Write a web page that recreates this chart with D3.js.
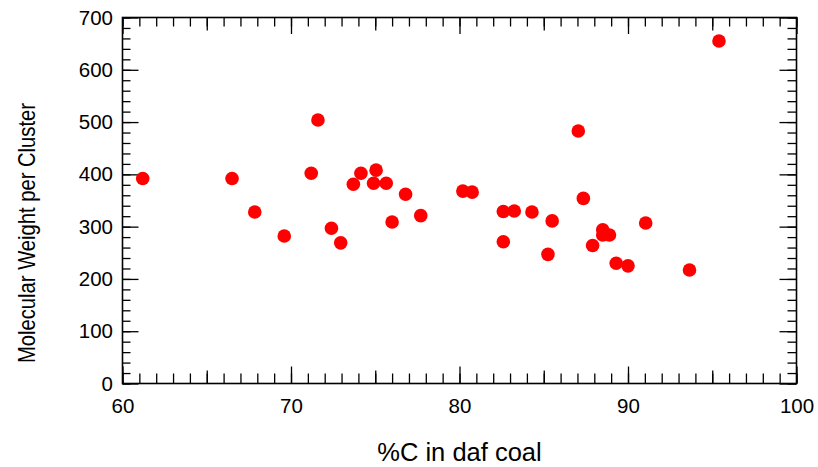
<!DOCTYPE html>
<html>
<head>
<meta charset="utf-8">
<script src="https://cdn.jsdelivr.net/npm/d3@7"></script>
<style>
  body { margin: 0; background: #fff; }
  svg text { font-family: "Liberation Sans", Arial, sans-serif; fill: #000; }
</style>
</head>
<body>
<svg id="chart" width="818" height="467"></svg>
<script>

// carbon content (%C daf) and molecular weight per cluster
var carbon = [61.2, 66.5, 67.85, 69.6, 71.2, 71.6, 72.4, 72.95, 73.7, 74.15,
              74.9, 75.05, 75.65, 76.0, 76.8, 77.7, 80.2, 80.75, 82.6, 82.6,
              83.25, 84.3, 85.25, 85.5, 87.05, 87.35, 87.9, 88.5, 88.5, 88.9,
              89.3, 90.0, 91.05, 93.65, 95.4];
var mw = [392, 392, 328, 282, 402, 504, 297, 269, 381, 402,
          383, 408, 383, 309, 362, 321, 368, 366, 329, 271,
          330, 328, 247, 311, 483, 354, 264, 294, 284, 284,
          230, 225, 307, 217, 655];

var xMajor = [60, 70, 80, 90, 100];
var yMajor = [0, 100, 200, 300, 400, 500, 600, 700];

var svg = d3.select("#chart");

var pLeft = 122.5, pRight = 796.5, pTop = 17.5, pBottom = 383.5;

var x = d3.scaleLinear().domain([60, 100]).range([pLeft, pRight]);
var y = d3.scaleLinear().domain([0, 700]).range([pBottom, pTop]);

// frame
svg.append("rect")
    .attr("x", pLeft).attr("y", pTop)
    .attr("width", pRight - pLeft).attr("height", pBottom - pTop)
    .attr("fill", "none").attr("stroke", "#000").attr("stroke-width", 1.6);

//helper to add an axis layer with inward ticks
function addAxis(axis, tx, ty, labels) {
    var g = svg.append("g")
        .attr("transform", "translate(" + tx + "," + ty + ")")
        .call(axis);
    g.select(".domain").remove();
    g.selectAll("line").attr("stroke", "#000").attr("stroke-width", 1.3);
    if (!labels) g.selectAll("text").remove();
    else g.attr("font-size", 20).attr("font-family", null)
          .selectAll("text").style("font-size", "20.5px").attr("fill", "#000");
    return g;
}

var xMinor = d3.range(60, 101, 1);
var xMid = [65, 75, 85, 95];
var yMinor = d3.range(0, 701, 20);

// bottom axis
addAxis(d3.axisBottom(x).tickValues(xMinor).tickSizeInner(-10).tickSizeOuter(0), 0, pBottom, false);
addAxis(d3.axisBottom(x).tickValues(xMid).tickSizeInner(-13).tickSizeOuter(0), 0, pBottom, false);
addAxis(d3.axisBottom(x).tickValues(xMajor).tickSizeInner(-17).tickSizeOuter(0)
    .tickPadding(14.5).tickFormat(d3.format("d")), 0, pBottom, true);

// top axis
addAxis(d3.axisTop(x).tickValues(xMinor).tickSizeInner(-9).tickSizeOuter(0), 0, pTop, false);
addAxis(d3.axisTop(x).tickValues(xMid).tickSizeInner(-13).tickSizeOuter(0), 0, pTop, false);
addAxis(d3.axisTop(x).tickValues(xMajor).tickSizeInner(-16.5).tickSizeOuter(0), 0, pTop, false);

// left axis
addAxis(d3.axisLeft(y).tickValues(yMinor).tickSizeInner(-8).tickSizeOuter(0), pLeft, 0, false);
addAxis(d3.axisLeft(y).tickValues(yMajor).tickSizeInner(-16).tickSizeOuter(0)
    .tickPadding(9.5).tickFormat(d3.format("d")), pLeft, 0, true);

// right axis
addAxis(d3.axisRight(y).tickValues(yMinor).tickSizeInner(-9).tickSizeOuter(0), pRight, 0, false);
addAxis(d3.axisRight(y).tickValues(yMajor).tickSizeInner(-17).tickSizeOuter(0), pRight, 0, false);

// points
svg.append("g").selectAll("circle")
    .data(carbon)
    .enter().append("circle")
    .attr("cx", function(d) { return x(d); })
    .attr("cy", function(d, i) { return y(mw[i]); })
    .attr("r", 6.8)
    .attr("fill", "#ff0000");

// axis titles
svg.append("text")
    .attr("x", (pLeft + pRight) / 2).attr("y", 461)
    .attr("text-anchor", "middle")
    .style("font-size", "25.5px")
    .text("%C in daf coal");

svg.append("text")
    .attr("transform", "translate(35,233) rotate(-90)")
    .attr("text-anchor", "middle")
    .attr("textLength", 260)
    .attr("lengthAdjust", "spacingAndGlyphs")
    .style("font-size", "24px")
    .text("Molecular Weight per Cluster");

</script>
</body>
</html>
